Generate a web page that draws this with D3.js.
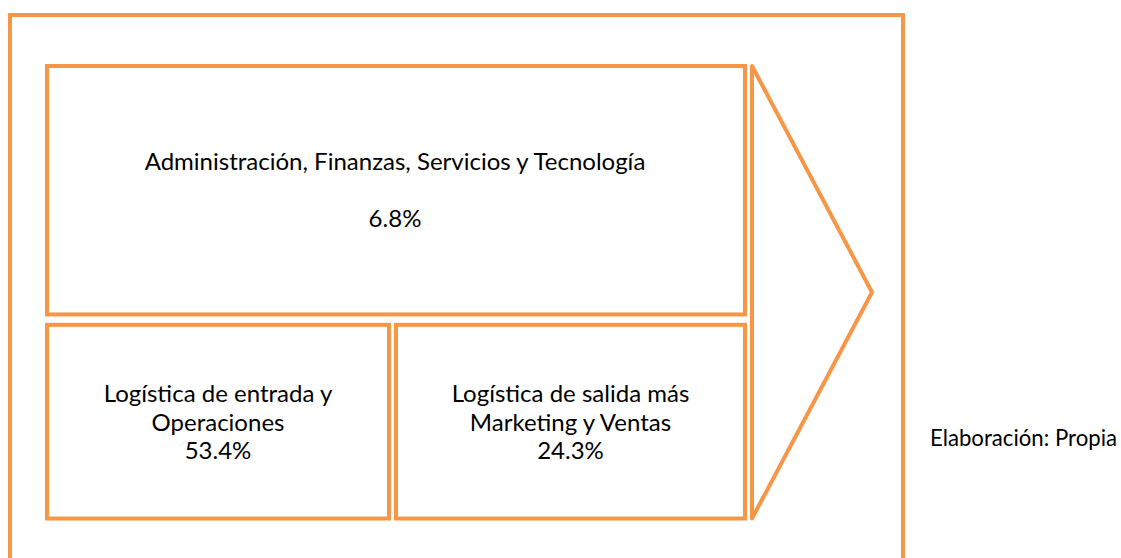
<!DOCTYPE html>
<html>
<head>
<meta charset="utf-8">
<script src="https://cdn.jsdelivr.net/npm/d3@7"></script>
<style>
  html, body { margin: 0; padding: 0; background: #fff; }
  svg { display: block; }
</style>
</head>
<body>
<svg id="my_svg"></svg>
<script>
// datos de la figura
const topArea = ["Administración, Finanzas, Servicios y Tecnología"];
const topShare = [6.8];
const bottomAreas = [
    ["Logística de entrada y", "Operaciones"],
    ["Logística de salida más", "Marketing y Ventas"]
];
const bottomShares = [53.4, 24.3];
const source = "Elaboración: Propia";

document.addEventListener('DOMContentLoaded', () => {
    const width = 1121;
    const height = 558;
    const orange = "#F79646";
    const fontFamily = "Lato, 'Open Sans', sans-serif";

    const svg = d3.select('#my_svg')
        .attr('width', width)
        .attr('height', height);

    // escalas del esquema
    const x = d3.scaleLinear().domain([0, 1]).range([47, 745]);
    const y = d3.scaleLinear().domain([0, 1]).range([66, 518.5]);
    const split = 0.549; // fin del bloque superior
    const gap = 0.023;
    const cols = [[0, 0.49], [0.5, 1]]; // bloques inferiores (fracción del ancho)

    // marco exterior
    svg.append('path')
        .attr('d', `M10,${height + 20} V15 H903 V${height + 20}`)
        .attr('fill', 'none')
        .attr('stroke', orange)
        .attr('stroke-width', 4);

    // bloque superior
    svg.append('rect')
        .attr('x', x(0)).attr('y', y(0))
        .attr('width', x(1) - x(0))
        .attr('height', y(split) - y(0))
        .attr('fill', 'none')
        .attr('stroke', orange)
        .attr('stroke-width', 4);

    // bloques inferiores
    svg.selectAll('.bottom-box')
        .data(bottomAreas).join('rect')
        .attr('class', 'bottom-box')
        .attr('x', (d, i) => x(cols[i][0]))
        .attr('y', y(split + gap))
        .attr('width', (d, i) => x(cols[i][1]) - x(cols[i][0]))
        .attr('height', y(1) - y(split + gap))
        .attr('fill', 'none')
        .attr('stroke', orange)
        .attr('stroke-width', 4);

    // flecha (margen)
    const ax = x(1) + 7;
    svg.append('path')
        .attr('d', d3.line()([[ax, y(0)], [872, (y(0) + y(1)) / 2], [ax, y(1)], [ax, y(0)]]) + 'Z')
        .attr('fill', 'none')
        .attr('stroke', orange)
        .attr('stroke-width', 4)
        .attr('stroke-linejoin', 'round');

    // textos
    const g = svg.append('g')
        .attr('font-family', fontFamily)
        .attr('fill', '#000')
        .attr('text-anchor', 'middle');

    const cx = (x(0) + x(1)) / 2 - 1;
    const topLabel = g.append('text')
        .attr('x', cx).attr('y', 170)
        .attr('font-size', 20)
        .text(topArea[0]);

    // ajustar tamaño de fuente al ancho del original (~501px)
    const w = topLabel.node().getComputedTextLength();
    const fs = 20 * 501 / w;
    topLabel.attr('font-size', fs);

    g.append('text')
        .attr('x', cx).attr('y', 227)
        .attr('font-size', fs)
        .text(d3.format('.1f')(topShare[0]) + '%');

    const lineY = [402, 431, 459];
    bottomAreas.forEach((lines, i) => {
        const bx = (x(cols[i][0]) + x(cols[i][1])) / 2;
        lines.forEach((t, j) => {
            g.append('text')
                .attr('x', bx).attr('y', lineY[j])
                .attr('font-size', fs)
                .text(t);
        });
        g.append('text')
            .attr('x', bx).attr('y', lineY[2])
            .attr('font-size', fs)
            .text(d3.format('.1f')(bottomShares[i]) + '%');
    });

    const src = g.append('text')
        .attr('x', 930).attr('y', 446)
        .attr('text-anchor', 'start')
        .attr('font-size', fs)
        .text(source);
    const sw = src.node().getComputedTextLength();
    if (sw > 187) src.attr('font-size', fs * 187 / sw);
});
</script>
</body>
</html>
